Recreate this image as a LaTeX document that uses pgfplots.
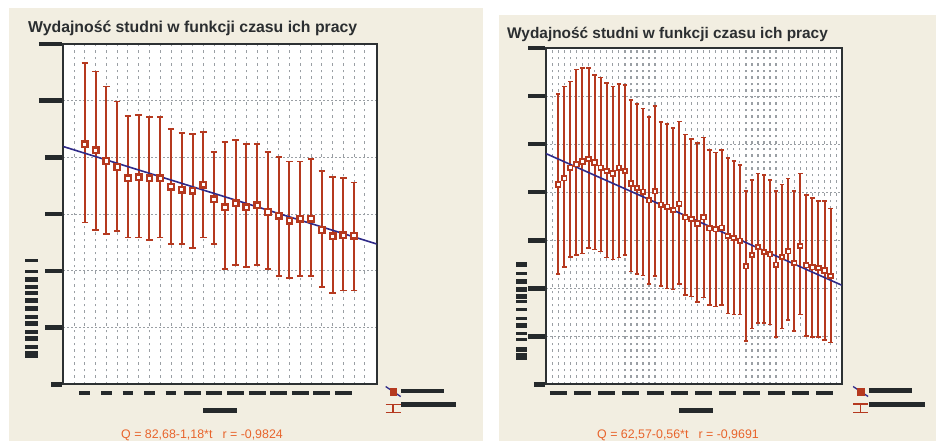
\documentclass[border=0pt]{standalone}
\usepackage{fontspec}
\setmainfont{Liberation Sans}
\usepackage{pgfplots}
\pgfplotsset{compat=1.18}
\usepackage{pgfplotstable}

\definecolor{bg}{HTML}{F2EEE1}
\definecolor{barc}{HTML}{B5391F}
\definecolor{regc}{HTML}{2F2A88}
\definecolor{rdk}{HTML}{25292B}
\definecolor{gridc}{HTML}{9A9FA4}
\definecolor{frm}{HTML}{E8642C}
\definecolor{ttl}{HTML}{2B2E30}
\definecolor{axc}{HTML}{2D3133}

\newcommand\rd[1]{\rule{#1pt}{4.5pt}}

\pgfplotstableread{
t q hi lo
1 84.7 113.2 57.1
2 82.5 110.3 54.5
3 78.8 105.0 53.1
4 76.6 99.7 54.0
5 72.7 94.5 51.8
6 73.0 95.0 51.8
7 72.7 94.4 51.0
8 72.7 94.4 51.8
9 69.7 90.0 49.5
10 68.6 88.6 49.5
11 68.3 88.4 48.0
12 70.4 89.1 51.8
13 65.3 81.9 49.5
14 62.5 85.4 40.6
15 63.9 86.3 42.0
16 62.4 84.8 41.4
17 63.1 84.7 42.0
18 60.8 81.9 40.6
19 59.5 80.2 38.2
20 57.7 78.6 37.5
21 58.4 78.6 38.2
22 58.4 79.5 38.2
23 54.5 75.1 34.5
24 52.2 73.0 32.3
25 52.6 72.8 33.1
26 52.4 71.2 33.1
}\dataL

\pgfplotstableread{
t q hi lo
28 41.6 60.4 23.0
29 42.9 62.0 24.4
30 45.1 63.0 26.5
31 45.8 65.5 26.9
32 46.4 65.8 27.2
33 46.9 65.8 28.4
34 46.2 64.4 28.1
35 45.1 63.9 27.7
36 44.4 62.7 26.4
37 43.9 62.0 26.0
38 45.1 62.5 26.4
39 44.4 62.3 26.9
40 41.8 59.2 23.5
41 40.9 58.3 23.0
42 40.1 57.4 22.7
43 38.3 55.6 20.9
44 40.2 57.9 22.6
45 37.4 54.6 20.5
46 37.0 54.2 20.0
47 36.3 53.4 19.8
48 37.6 54.7 20.9
49 34.8 52.0 18.6
50 34.4 51.1 18.3
51 33.5 50.2 17.2
52 34.8 51.4 18.1
53 32.5 48.8 16.5
54 32.3 48.3 16.2
55 32.6 48.8 16.5
56 30.9 47.1 14.8
57 30.5 46.5 14.6
58 29.9 45.7 14.6
59 24.6 40.2 9.0
60 26.9 42.5 11.6
61 28.6 43.9 12.8
62 27.6 43.6 12.8
63 27.1 42.5 12.5
64 24.9 40.2 9.9
65 26.5 41.6 11.6
66 27.7 42.9 13.4
67 25.3 40.2 11.1
68 28.8 43.9 14.6
69 24.8 39.4 10.1
70 24.4 38.8 9.9
71 24.2 38.2 9.9
72 23.7 38.2 9.3
73 22.6 36.6 8.7
}\dataR

\pgfplotsset{
  panel/.style={
    scale only axis,
    axis background/.style={fill=white},
    axis line style={draw=axc, line width=2pt},
    major tick length=0pt, minor tick length=0pt,
    xmajorgrids, xminorgrids, ymajorgrids,
    major x grid style={draw=gridc, line width=1pt, dash pattern=on 2.5pt off 4pt},
    minor x grid style={draw=gridc, line width=1pt, dash pattern=on 2.5pt off 4pt},
    major y grid style={draw=gridc, line width=1pt, dash pattern=on 2pt off 2pt},
    xticklabel style={anchor=north, inner sep=0pt, yshift=-6pt, text=rdk},
    yticklabel style={anchor=east, inner sep=0pt, xshift=-1pt, text=rdk},
    legend cell align=left,
    legend style={draw=none, fill=none, inner sep=0pt, outer sep=0pt,
      row sep=5pt, nodes={inner sep=0pt, text=rdk}},
  },
  errimg/.style={legend image code/.code={
      \draw[barc, line width=1.3pt] (0pt,1pt) -- (15pt,1pt);
      \draw[barc, line width=1.6pt] (7.5pt,1pt) -- (7.5pt,-7.5pt);
      \draw[barc, line width=1.3pt] (0pt,-7.5pt) -- (15pt,-7.5pt);
  }},
  ptimg/.style={legend image code/.code={
      \draw[regc, line width=1.3pt] (0pt,5pt) -- (15pt,-5pt);
      \fill[barc] (4.5pt,-3.3pt) rectangle (11pt,3.3pt);
  }},
}

\begin{document}
\begin{tikzpicture}
\useasboundingbox (0,0) rectangle (936pt,441pt);
\fill[white] (0,0) rectangle (936pt,441pt);
\begin{scope}[x=1pt, y=-1pt, yshift=441pt]
  \fill[bg] (9,8) rectangle (483,441);
  \fill[bg] (499,15) rectangle (936,441);
\end{scope}

% ---------- left panel ----------
\begin{axis}[panel,
  at={(63.3pt,56.5pt)}, anchor=south west,
  width=313.4pt, height=340.5pt,
  xmin=-1, xmax=28.1, ymin=0, ymax=120,
  xtick={1,3,...,25}, minor xtick={0,...,27},
  ytick={0,20,...,120},
  xticklabels={\rd{10.7},\rd{10.7},\rd{10.7},\rd{10.7},\rd{10.7},\rd{16.7},\rd{16.7},\rd{16.7},\rd{16.7},\rd{16.7},\rd{16.7},\rd{16.7},\rd{16.7}},
  yticklabels={\rd{10.7},\rd{16.7},\rd{16.7},\rd{16.7},\rd{16.7},\rd{23.3},\rd{23.3}},
  legend style={at={(axis description cs:1.0265,-0.004)}, anchor=north west},
]
\addplot[forget plot, only marks, mark=square*, mark size=2.8pt,
  mark options={draw=barc, fill=white, line width=2.3pt, solid},
  error bars/.cd, y dir=both, y explicit,
  error bar style={draw=barc, line width=2pt, solid},
  error mark options={draw=barc, line width=1.8pt, mark size=3.2pt, rotate=90}]
  table[x=t, y=q, y error plus expr=\thisrow{hi}-\thisrow{q},
        y error minus expr=\thisrow{q}-\thisrow{lo}] {\dataL};
\addplot[forget plot, regc, line width=1.6pt] coordinates {(-1,83.86) (28.1,49.52)};
\addlegendimage{ptimg}
\addlegendentry{\rd{43}}
\addlegendimage{errimg}
\addlegendentry{\rd{55}}
\end{axis}

% ---------- right panel ----------
\begin{axis}[panel,
  at={(546pt,56.5pt)}, anchor=south west,
  width=295.7pt, height=336.5pt,
  xmin=25.97, xmax=74.84, ymin=0, ymax=70,
  xtick={28,32,...,72}, minor xtick={26,...,74},
  ytick={0,10,...,70},
  major x grid style={draw=gridc, line width=1.3pt, dash pattern=on 2.5pt off 4pt},
  minor x grid style={draw=gridc, line width=1.3pt, dash pattern=on 2.5pt off 4pt},
  xticklabels={\rd{17},\rd{17},\rd{17},\rd{17},\rd{17},\rd{17},\rd{17},\rd{17},\rd{17},\rd{17},\rd{17},\rd{17}},
  yticklabels={\rd{11},\rd{16.7},\rd{16.7},\rd{16.7},\rd{16.7},\rd{16.7},\rd{16.7},\rd{16.7}},
  legend style={at={(axis description cs:1.0365,-0.004)}, anchor=north west},
]
\addplot[forget plot, only marks, mark=square*, mark size=2.2pt,
  mark options={draw=barc, fill=white, line width=1.8pt, solid},
  error bars/.cd, y dir=both, y explicit,
  error bar style={draw=barc, line width=2pt, solid},
  error mark options={draw=barc, line width=1.5pt, mark size=2.2pt, rotate=90}]
  table[x=t, y=q, y error plus expr=\thisrow{hi}-\thisrow{q},
        y error minus expr=\thisrow{q}-\thisrow{lo}] {\dataR};
\addplot[forget plot, regc, line width=1.6pt] coordinates {(25.97,48.03) (74.84,20.66)};
\addlegendimage{ptimg}
\addlegendentry{\rd{43}}
\addlegendimage{errimg}
\addlegendentry{\rd{56}}
\end{axis}

\begin{scope}[x=1pt, y=-1pt, yshift=441pt]
  % titles
  \node[anchor=base west, inner sep=0pt, text=ttl, font=\fontsize{15.8}{18}\selectfont\bfseries] at (28,32.5) {Wydajność studni w funkcji czasu ich pracy};
  \node[anchor=base west, inner sep=0pt, text=ttl, font=\fontsize{15.4}{18}\selectfont\bfseries] at (507,38.6) {Wydajność studni w funkcji czasu ich pracy};
  % formulas
  \node[anchor=base, inner sep=0pt, text=frm, font=\fontsize{12.4}{14}\selectfont] at (202,438.3) {Q = 82,68-1,18*t\hspace{10pt}r = -0,9824};
  \node[anchor=base, inner sep=0pt, text=frm, font=\fontsize{12.4}{14}\selectfont] at (678,438.3) {Q = 62,57-0,56*t\hspace{10pt}r = -0,9691};
  % redacted axis titles
  \foreach \a/\b in {259/262,270/273,277.3/281.7,285/289.3,291/295.3,298.3/302.7,306/310.7,315/319.3,321/325.7,330/334.3,336/340.7,345/349.3,351/357.7}
    \fill[rdk] (25,\a) rectangle (37.7,\b);
  \foreach \a/\b in {262/266.7,272/274.7,279/283.7,287/291.7,294/298.7,300/302.7,308/310.7,317/319.7,323/327.7,332/334.7,338/340.7,347/351.7,353/359.7}
    \fill[rdk] (516,\a) rectangle (527,\b);
  \fill[rdk] (203,408) rectangle (237,413);
  \fill[rdk] (679,408) rectangle (713,413);
\end{scope}
\end{tikzpicture}
\end{document}
